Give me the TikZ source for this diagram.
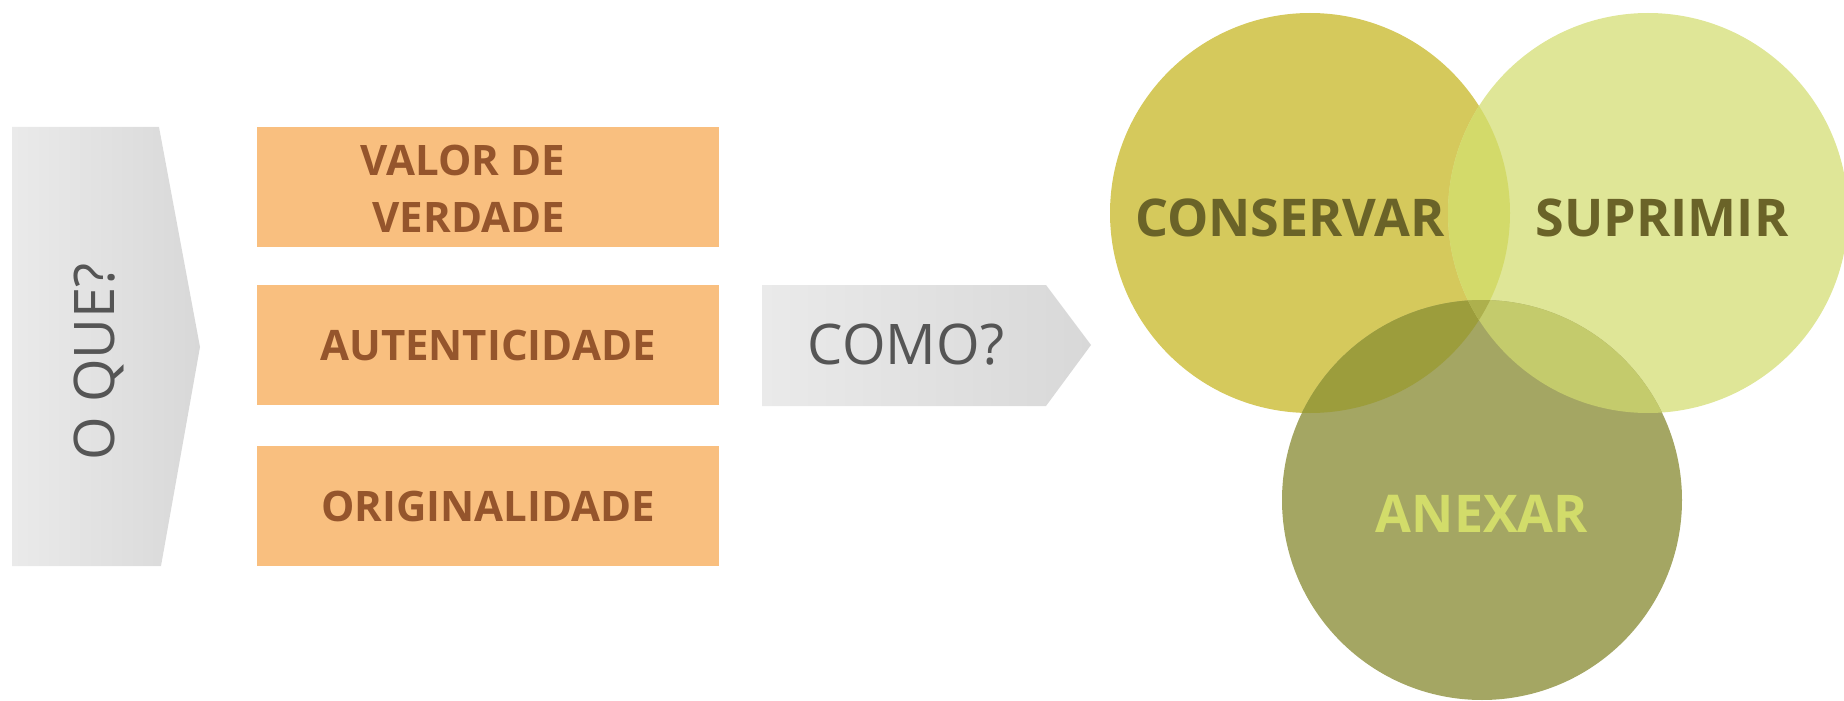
\documentclass[tikz,border=0pt]{standalone}
\usepackage{fontspec}
\setmainfont{Open Sans}
\usetikzlibrary{positioning}

\definecolor{arrowlight}{HTML}{EAEAEA}
\definecolor{arrowdark}{HTML}{D8D8D8}
\definecolor{asktext}{HTML}{555555}
\definecolor{boxorange}{HTML}{F9BF7F}
\definecolor{boxtext}{HTML}{95552C}
\definecolor{conscol}{HTML}{D5C95C}
\definecolor{suprcol}{HTML}{DFE697}
\definecolor{anexcol}{HTML}{A4A663}
\definecolor{cscol}{HTML}{D3DA6A}
\definecolor{cacol}{HTML}{9C9D3C}
\definecolor{sacol}{HTML}{C4CB6C}
\definecolor{allcol}{HTML}{ADB04D}
\definecolor{darkolive}{HTML}{6A6328}
\definecolor{limetext}{HTML}{D2DC6A}

\begin{document}
\begin{tikzpicture}[x=0.5pt,y=-0.5pt,
  pointer/.style={left color=arrowlight, right color=arrowdark, draw=none},
  askfont/.style={font=\fontsize{28}{34}\selectfont, text=asktext},
  criterion/.style={fill=boxorange, minimum width=231pt, minimum height=60pt, inner sep=0pt},
  critfont/.style={font=\bfseries\fontsize{21}{28.5}\selectfont, text=boxtext},
  action/.style={font=\bfseries\fontsize{26}{30}\selectfont}]

\useasboundingbox (0,0) rectangle (1844,701);

% O QUE?
\shade[pointer] (12,127) -- (159,127) -- (200,347) -- (161,566) -- (12,566) -- cycle;
\node[askfont, rotate=90] (oque) at (99,362) {O QUE?};

% criterios
\node[criterion] (valor) at (488,187) {};
\node[criterion, critfont] (autent) at (488,345) {AUTENTICIDADE};
\node[criterion, critfont] (orig) at (488,506) {ORIGINALIDADE};
\node[critfont, align=right] (valortxt) at (463,189) {VALOR DE\\VERDADE};

% COMO?
\shade[pointer] (762,285) -- (1046,285) -- (1091,345) -- (1046,406) -- (762,406) -- cycle;
\node[askfont] (como) at (906,345) {COMO?};

% circulos
\coordinate (cons) at (1310,213);
\coordinate (supr) at (1648,213);
\coordinate (anex) at (1482,500);

\fill[conscol] (cons) circle[radius=100pt];
\fill[suprcol] (supr) circle[radius=100pt];
\fill[anexcol] (anex) circle[radius=100pt];
\begin{scope}
  \clip (cons) circle[radius=100pt];
  \fill[cscol] (supr) circle[radius=100pt];
  \fill[cacol] (anex) circle[radius=100pt];
\end{scope}
\begin{scope}
  \clip (supr) circle[radius=100pt];
  \fill[sacol] (anex) circle[radius=100pt];
  \clip (cons) circle[radius=100pt];
  \fill[allcol] (anex) circle[radius=100pt];
\end{scope}

\node[action, text=darkolive] (conservar) at (1290,218) {CONSERVAR};
\node[action, text=darkolive] (suprimir) at (1662,218) {SUPRIMIR};
\node[action, text=limetext] (anexar) at (1482,514) {ANEXAR};

\end{tikzpicture}
\end{document}
